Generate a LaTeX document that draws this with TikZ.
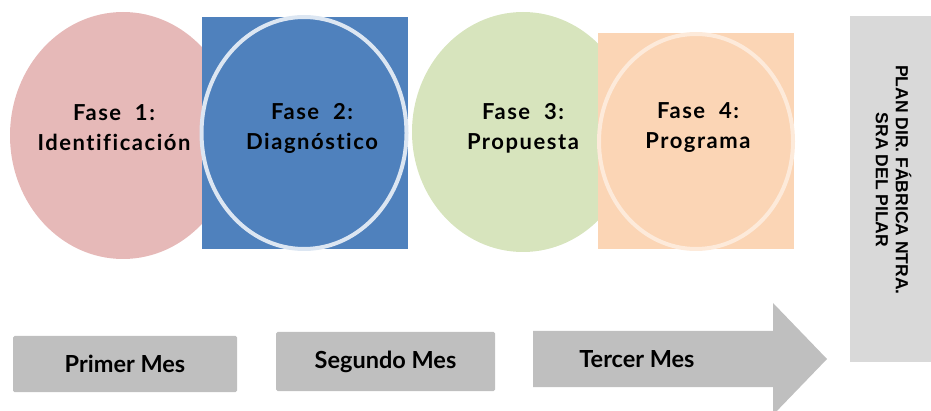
\documentclass[tikz,border=0pt]{standalone}
\usepackage{fontspec}
\setmainfont{Lato}
\newfontfamily\fasefont[LetterSpace=7,Ligatures=NoCommon]{Lato}
\newfontfamily\arial{Liberation Sans}
\usetikzlibrary{shapes.geometric}
\definecolor{rosa}{HTML}{E6B9B8}
\definecolor{azul}{HTML}{4F81BD}
\definecolor{azulclaro}{HTML}{DCE6F2}
\definecolor{verde}{HTML}{D7E4BD}
\definecolor{naranja}{HTML}{FBD5B5}
\definecolor{naranjaclaro}{HTML}{FDEADA}
\definecolor{gris}{HTML}{BFBFBF}
\definecolor{grisclaro}{HTML}{D9D9D9}
\begin{document}
\begin{tikzpicture}[x=1pt,y=-1pt,
    fase/.style={shape=ellipse, inner sep=0pt},
    cuadro/.style={shape=rectangle, inner sep=0pt},
    texto/.style={align=center, font=\fasefont\fontsize{22}{30}\selectfont\bfseries},
    mes/.style={fill=gris, rounded corners=1.5pt, inner sep=0pt, font=\fontsize{23.5}{26}\selectfont\bfseries}]
    \useasboundingbox (0,0) rectangle (931,411);

    \node (c1) [fase, fill=rosa, minimum width=226, minimum height=247] at (123,135.5) {};
    \node (q2) [cuadro, fill=azul, minimum width=206, minimum height=232] at (305,133) {};
    \node (c2) [fase, fill=azul, draw=azulclaro, line width=4pt, minimum width=205, minimum height=232] at (304,133) {};
    \node (c3) [fase, fill=verde, minimum width=222, minimum height=240] at (523,132) {};
    \node (q4) [cuadro, fill=naranja, minimum width=196, minimum height=216] at (696,141) {};
    \node (c4) [fase, draw=naranjaclaro, line width=4pt, minimum width=194, minimum height=215] at (696,141.5) {};

    \node (t1) [texto] at (114,128) {Fase\ \ 1:\\Identificación};
    \node (t2) [texto] at (312,128) {Fase\ \ 2:\\Diagnóstico};
    \node (t3) [texto] at (523,128) {Fase\ \ 3:\\Propuesta};
    \node (t4) [texto] at (698,128) {Fase\ \ 4:\\Programa};

    \node (m1) [mes, minimum width=224, minimum height=56] at (125,364) {Primer Mes};
    \node (m2) [mes, minimum width=219, minimum height=59] at (385.5,361.5) {Segundo Mes};
    \fill[gris] (533,331) -- (773,331) -- (773,303) -- (827,359) -- (773,415) -- (773,387) -- (533,387) -- cycle;
    \node (m3) [font=\fontsize{23.5}{26}\selectfont\bfseries] at (637,359) {Tercer Mes};

    \node (plan) [cuadro, fill=grisclaro, minimum width=82, minimum height=346] at (891,189) {};
    \node (tp) [rotate=-90, align=center, font=\arial\fontsize{17.5}{20}\selectfont\bfseries] at (893.5,180) {PLAN DIR. FÁBRICA NTRA.\\SRA DEL PILAR};
\end{tikzpicture}
\end{document}
